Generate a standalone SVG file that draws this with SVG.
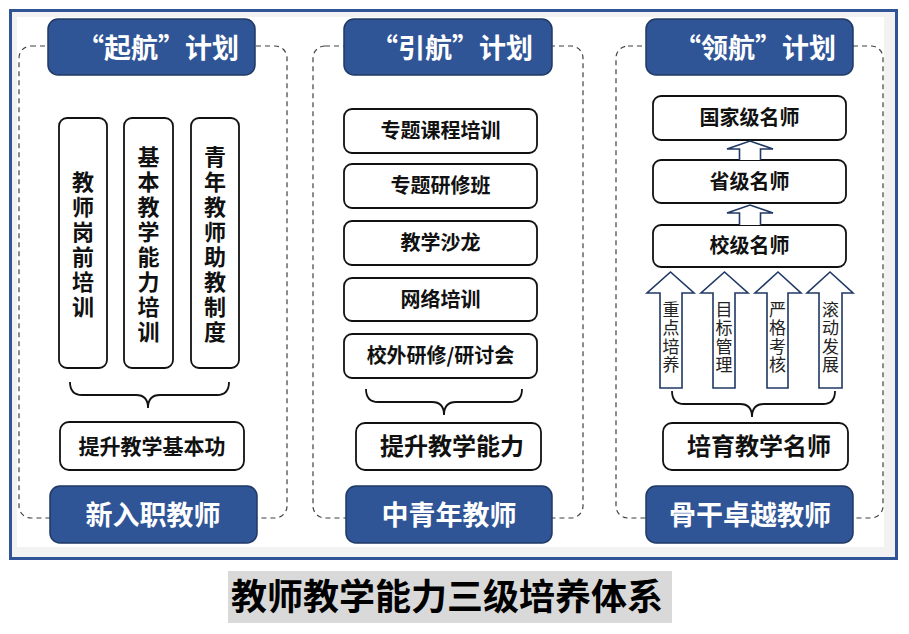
<svg xmlns="http://www.w3.org/2000/svg" width="909" height="634" viewBox="0 0 909 634">
<style>
text{font-family:"Noto Sans CJK SC","Liberation Sans",sans-serif;text-anchor:middle}
.b{font-weight:bold}
.head{fill:#2F5597;stroke:#1F3864;stroke-width:1.5}
.ht{fill:#fff;font-weight:bold;font-size:27px}
.box{fill:#fff;stroke:#111;stroke-width:1.8}
.dash{fill:none;stroke:#404040;stroke-width:1.2;stroke-dasharray:5 4}
.brace{fill:none;stroke:#111;stroke-width:1.8}
.arr{fill:#fff;stroke:#1F3864;stroke-width:1.6;stroke-linejoin:miter}
.t20{font-size:20px;font-weight:bold;fill:#111}
.t24{font-size:24px;font-weight:bold;fill:#111}
.v22{font-size:22px;font-weight:bold;fill:#111;writing-mode:vertical-rl;text-anchor:start;letter-spacing:3px}
.v18{font-size:17px;fill:#222;writing-mode:vertical-rl;text-anchor:start;letter-spacing:1.5px}
</style>
<rect x="10.5" y="10.5" width="886" height="548" fill="#f2f2f2" stroke="#2F5597" stroke-width="3"/>
<rect x="17" y="17" width="867" height="530" fill="#fff"/>

<g id="col1">
<rect class="dash" x="19" y="46" width="268" height="472" rx="12"/>
<g id="c1-title"><rect class="head" x="48" y="19" width="207" height="56" rx="10"/><text class="ht" x="158" y="58">“起航”计划</text></g>
<g id="c1-a"><rect class="box" x="59" y="118" width="48" height="250" rx="8"/><text class="v22" x="83" y="171">教师岗前培训</text></g>
<g id="c1-b"><rect class="box" x="124" y="118" width="49" height="250" rx="8"/><text class="v22" x="148.5" y="146">基本教学能力培训</text></g>
<g id="c1-c"><rect class="box" x="191" y="118" width="48" height="250" rx="8"/><text class="v22" x="215" y="146">青年教师助教制度</text></g>
<g id="c1-goal"><rect class="box" x="60" y="422" width="184" height="48" rx="9"/><text class="b" x="152" y="454" font-size="21" fill="#111">提升教学基本功</text></g>
<g id="c1-foot"><rect class="head" x="50" y="486" width="207" height="57" rx="10"/><text class="ht" x="153" y="525">新入职教师</text></g>
</g>

<g id="col2">
<rect class="dash" x="313" y="46" width="270" height="472" rx="12"/>
<g id="c2-title"><rect class="head" x="344" y="19" width="208" height="56" rx="10"/><text class="ht" x="452" y="58">“引航”计划</text></g>
<g id="c2-1"><rect class="box" x="344" y="109" width="193" height="44" rx="8"/><text class="t20" x="440.5" y="138">专题课程培训</text></g>
<g id="c2-2"><rect class="box" x="344" y="164" width="193" height="44" rx="8"/><text class="t20" x="440.5" y="193">专题研修班</text></g>
<g id="c2-3"><rect class="box" x="344" y="221" width="193" height="44" rx="8"/><text class="t20" x="440.5" y="250">教学沙龙</text></g>
<g id="c2-4"><rect class="box" x="344" y="278" width="193" height="43" rx="8"/><text class="t20" x="440.5" y="306.5">网络培训</text></g>
<g id="c2-5"><rect class="box" x="344" y="334" width="193" height="44" rx="8"/><text class="t20" x="440.5" y="363">校外研修/研讨会</text></g>
<g id="c2-goal"><rect class="box" x="356" y="423" width="185" height="47" rx="9"/><text class="t24" x="452" y="455">提升教学能力</text></g>
<g id="c2-foot"><rect class="head" x="346" y="486" width="206" height="57" rx="10"/><text class="ht" x="449" y="525">中青年教师</text></g>
</g>

<g id="col3">
<rect class="dash" x="616" y="46" width="267" height="472" rx="12"/>
<g id="c3-title"><rect class="head" x="646" y="19" width="207" height="56" rx="10"/><text class="ht" x="755" y="58">“领航”计划</text></g>
<g id="c3-nat"><rect class="box" x="653" y="96" width="193" height="44" rx="8"/><text class="t20" x="749.5" y="125">国家级名师</text></g>
<g id="c3-prov"><rect class="box" x="653" y="160" width="193" height="43" rx="8"/><text class="t20" x="749.5" y="189">省级名师</text></g>
<g id="c3-sch"><rect class="box" x="653" y="225" width="193" height="42" rx="8"/><text class="t20" x="749.5" y="253">校级名师</text></g>
<g id="c3-a1"><path class="arr" d="M660,388 V293 H647 L670.5,272 L694,293 H682 V388 Z"/><text class="v18" x="671" y="301">重点培养</text></g>
<g id="c3-a2"><path class="arr" d="M713,388 V293 H701 L724.5,272 L748,293 H735 V388 Z"/><text class="v18" x="724" y="301">目标管理</text></g>
<g id="c3-a3"><path class="arr" d="M767,388 V293 H755 L778,272 L801,293 H788 V388 Z"/><text class="v18" x="777.5" y="301">严格考核</text></g>
<g id="c3-a4"><path class="arr" d="M819,388 V293 H807 L830,272 L853,293 H842 V388 Z"/><text class="v18" x="830.5" y="301">滚动发展</text></g>
<g id="c3-goal"><rect class="box" x="663" y="423" width="185" height="47" rx="9"/><text class="t24" x="759" y="455">培育教学名师</text></g>
<g id="c3-foot"><rect class="head" x="646" y="486" width="207" height="57" rx="10"/><text class="ht" x="750" y="525">骨干卓越教师</text></g>
</g>

<g id="connectors">
<path class="brace" d="M70,382 Q70,395 82,395 H136 Q148,395 148,408 Q148,395 160,395 H217 Q229,395 229,382"/>
<path class="brace" d="M366,389 Q366,402 378,402 H432 Q444,402 444,415 Q444,402 456,402 H510 Q522,402 522,389"/>
<path class="brace" d="M672,391 Q672,404 684,404 H740 Q752,404 752,417 Q752,404 764,404 H823 Q835,404 835,391"/>
<path class="arr" d="M739.5,160 V149 H727 L750,141 L773,149 H760.5 V160"/>
<path class="arr" d="M739.5,225 V213 H727 L750,205 L773,213 H760.5 V225"/>
</g>

<g id="caption">
<rect x="228" y="571" width="444" height="52" fill="#d9d9d9"/>
<text class="b" x="447" y="610" font-size="36" fill="#000">教师教学能力三级培养体系</text>
</g>
</svg>
